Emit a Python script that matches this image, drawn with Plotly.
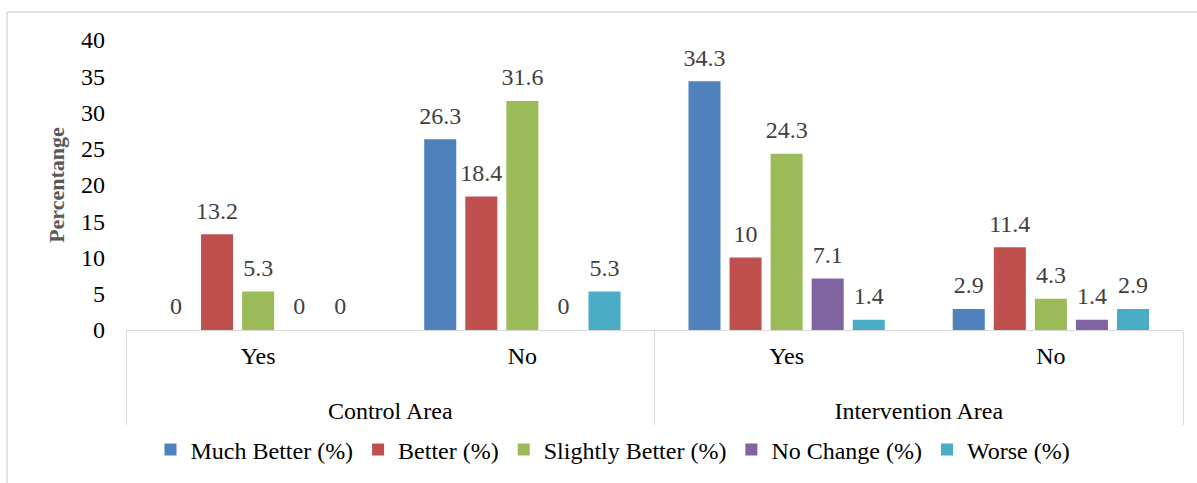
import plotly.graph_objects as go

areas = ["Control Area", "Control Area", "Intervention Area", "Intervention Area"]
answers = ["Yes", "No", "Yes", "No"]

series_names = ["Much Better (%)", "Better (%)", "Slightly Better (%)", "No Change (%)", "Worse (%)"]
much_better = [0, 26.3, 34.3, 2.9]
better = [13.2, 18.4, 10, 11.4]
slightly_better = [5.3, 31.6, 24.3, 4.3]
no_change = [0, 0, 7.1, 1.4]
worse = [0, 5.3, 1.4, 2.9]

series_values = [much_better, better, slightly_better, no_change, worse]
colors = ["#4F81BD", "#C0504D", "#9BBB59", "#8064A2", "#4BACC6"]

FONT = "Liberation Serif"
FS = 24

# outer-level labels get an empty first line so they sit lower, like Excel's
area_labels = ["<br>" + a for a in areas]

fig = go.Figure()
for i, (name, vals, col) in enumerate(zip(series_names, series_values, colors)):
    fig.add_trace(go.Bar(
        x=[area_labels, answers], y=vals, name=name,
        offsetgroup=str(i),
        marker=dict(color=col, line=dict(width=0)),
    ))
# data labels, grouped like the bars
for i, vals in enumerate(series_values):
    fig.add_trace(go.Scatter(
        x=[area_labels, answers], y=vals,
        offsetgroup=str(i),
        mode="markers+text",
        marker=dict(size=14, color="rgba(0,0,0,0)"),
        text=[f"{v:g}" for v in vals],
        textposition="top center",
        textfont=dict(family=FONT, size=FS, color="#404040"),
        showlegend=False, hoverinfo="skip", cliponaxis=False,
    ))

W, H = 1197, 483
L, R, T, B = 126, 14, 40, 152
pw, ph = W - L - R, H - T - B

fig.update_layout(
    width=W, height=H,
    margin=dict(l=L, r=R, t=T, b=B),
    paper_bgcolor="white", plot_bgcolor="white",
    font=dict(family=FONT, size=FS, color="#000000"),
    barmode="group", bargap=0.223, bargroupgap=0.22,
    scattermode="group", scattergap=0.223,
    showlegend=True,
    legend=dict(orientation="h", x=(613 - L) / pw, xanchor="center",
                y=-(450 - (T + ph)) / ph, yanchor="middle",
                font=dict(family=FONT, size=FS, color="#000000"),
                itemsizing="constant"),
    xaxis=dict(
        showline=True, linecolor="#D9D9D9", linewidth=1,
        showgrid=False, ticks="",
        ticklabelstandoff=4,
        tickfont=dict(family=FONT, size=FS, color="#000000"),
        showdividers=True, dividercolor="#D9D9D9", dividerwidth=1,
    ),
    yaxis=dict(
        range=[0, 40], dtick=5, showgrid=False, zeroline=False,
        showline=False, ticks="",
        ticklabelstandoff=20,
        tickfont=dict(family=FONT, size=FS, color="#000000"),
        title=dict(text="<b>Percentange</b>", standoff=10,
                   font=dict(family=FONT, size=22, color="#595959")),
    ),
)

# outer chart border (top and left edges visible)
fig.add_shape(type="line", xref="paper", yref="paper",
              x0=(7 - L) / pw, x1=(W + 20 - L) / pw,
              y0=1 + (T - 12) / ph, y1=1 + (T - 12) / ph,
              line=dict(color="#D9D9D9", width=1.5))
fig.add_shape(type="line", xref="paper", yref="paper",
              x0=(7 - L) / pw, x1=(7 - L) / pw,
              y0=1 + (T - 12) / ph, y1=-(H + 20 - T - ph) / ph,
              line=dict(color="#D9D9D9", width=1.5))

fig.write_html("out.html")
